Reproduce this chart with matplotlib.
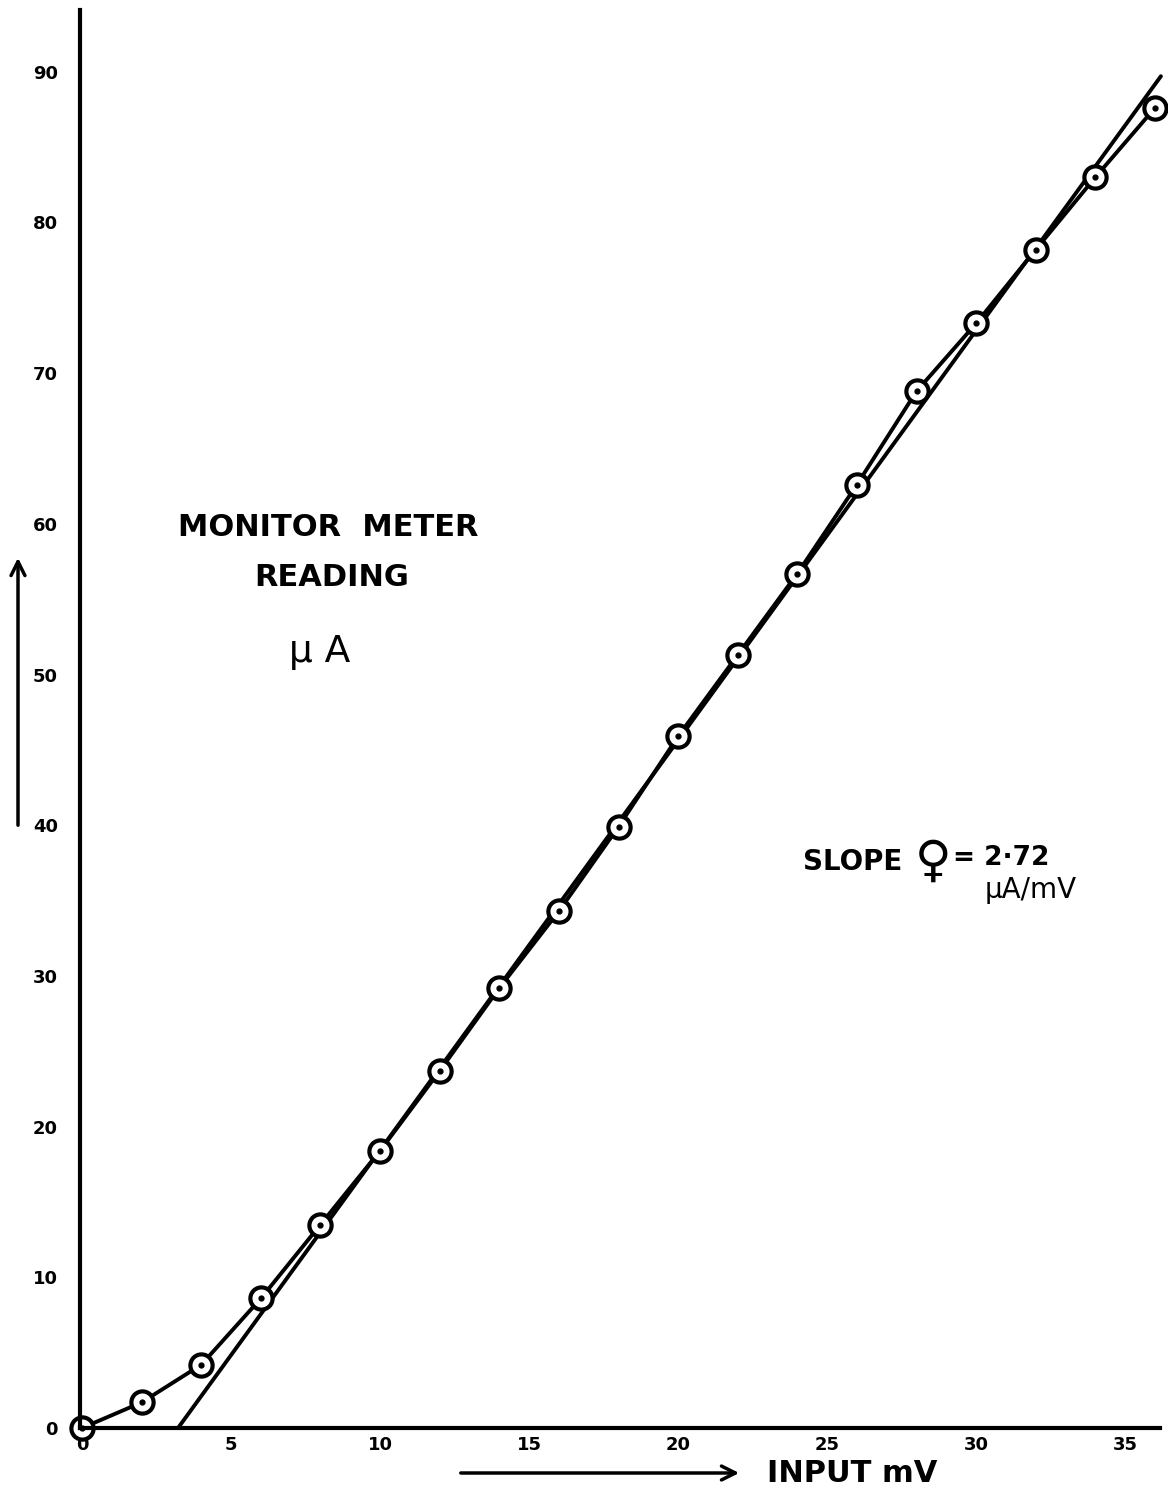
import numpy as np
import matplotlib.pyplot as plt

# readings: input (mV) vs monitor meter (uA)
input_mv = [0, 2, 4, 6, 8, 10, 12, 14, 16, 18, 20, 22, 24, 26, 28, 30, 32, 34, 36]
meter_ua = [0, 1.7, 4.2, 8.6, 13.5, 18.4, 23.7, 29.2, 34.3, 39.9,
            45.9, 51.3, 56.7, 62.6, 68.8, 73.3, 78.2, 83.0, 87.6]

# straight-line fit drawn on the sheet
fit_x = [3.22, 36.2]
slope = 2.72

x_ticks = [0, 5, 10, 15, 20, 25, 30, 35]
x_tick_labels = ["0", "5", "10", "15", "20", "25", "30", "35"]
y_ticks = [0, 10, 20, 30, 40, 50, 60, 70, 80, 90]
y_tick_labels = ["0", "10", "20", "30", "40", "50", "60", "70", "80", "90"]

W, H = 1168, 1492
fig = plt.figure(figsize=(W / 100, H / 100), dpi=100)
ax = fig.add_axes([80 / W, (H - 1428) / H, (1160 - 80) / W, (1428 - 10) / H])

fit_y = [slope * (x - fit_x[0]) for x in fit_x]
ax.plot(fit_x, fit_y, color="black", lw=2.8, solid_capstyle="round", clip_on=False)
ax.plot(input_mv, meter_ua, color="black", lw=2.8, clip_on=False)
ax.plot(input_mv, meter_ua, "o", ms=16, mfc="white", mec="black", mew=3, clip_on=False)
ax.plot(input_mv, meter_ua, "o", ms=3.5, color="black", clip_on=False)

ax.set_xlim(-0.07, 36.17)
ax.set_ylim(0, 94.1)

for s in ["top", "right"]:
    ax.spines[s].set_visible(False)
ax.spines["left"].set_linewidth(3)
ax.spines["bottom"].set_linewidth(3)

ax.set_xticks(x_ticks, x_tick_labels, fontsize=13, fontweight="bold")
ax.set_yticks(y_ticks, y_tick_labels, fontsize=13, fontweight="bold")
ax.tick_params(axis="both", length=0)
ax.tick_params(axis="x", pad=6)
ax.tick_params(axis="y", pad=16)


def fx(px):
    return px / W


def fy(py):
    return 1 - py / H


fig.text(fx(328), fy(528), "MONITOR  METER", ha="center", va="center",
         fontsize=22, fontweight="bold")
fig.text(fx(332), fy(578), "READING", ha="center", va="center",
         fontsize=22, fontweight="bold")
fig.text(fx(320), fy(652), "μ A", ha="center", va="center", fontsize=27)

fig.text(fx(803), fy(862), "SLOPE", ha="left", va="center",
         fontsize=20, fontweight="bold")
fig.text(fx(933), fy(862), "♀", ha="center", va="center",
         fontsize=36, fontweight="bold")
fig.text(fx(953), fy(858), "= 2·72", ha="left", va="center",
         fontsize=19, fontweight="bold")
fig.text(fx(985), fy(890), "μA/mV", ha="left", va="center",
         fontsize=20)

# direction arrows
ax.annotate("", xy=(fx(18), fy(555)), xytext=(fx(18), fy(828)),
            xycoords="figure fraction", textcoords="figure fraction",
            arrowprops=dict(arrowstyle="->", lw=2.5, mutation_scale=25, color="black"))
ax.annotate("", xy=(fx(742), fy(1473)), xytext=(fx(458), fy(1473)),
            xycoords="figure fraction", textcoords="figure fraction",
            arrowprops=dict(arrowstyle="->", lw=2.5, mutation_scale=25, color="black"))
fig.text(fx(767), fy(1473), "INPUT mV", ha="left", va="center",
         fontsize=22, fontweight="bold")

fig.savefig("out.png", dpi=100)
